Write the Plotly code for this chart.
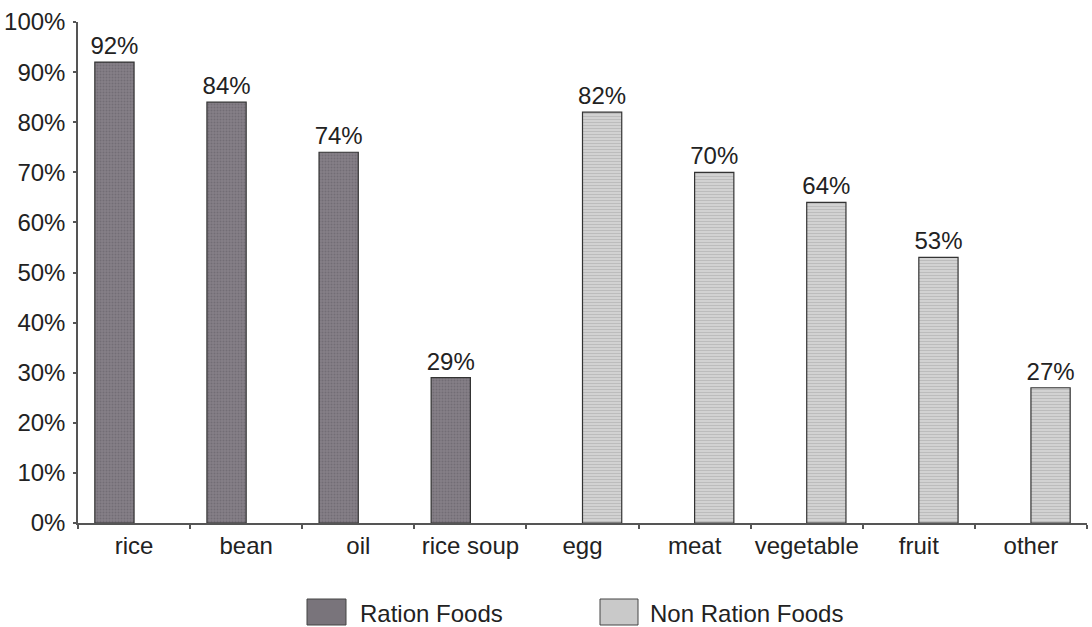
import plotly.graph_objects as go

# Food categories and share of households (%)
categories = ["rice", "bean", "oil", "rice soup", "egg", "meat", "vegetable", "fruit", "other"]
ration_values = [92, 84, 74, 29, None, None, None, None, None]
non_ration_values = [None, None, None, None, 82, 70, 64, 53, 27]
series_names = ["Ration Foods", "Non Ration Foods"]
y_tick_values = [0, 10, 20, 30, 40, 50, 60, 70, 80, 90, 100]
y_tick_labels = [f"{v}%" for v in y_tick_values]

FONT = "Liberation Sans, Arial, sans-serif"
TEXT_COLOR = "#222222"
AXIS_COLOR = "#555555"
RATION_COLOR = "#79747b"
NON_RATION_COLOR = "#c9c9c9"

W, H = 1092, 627
M_L, M_R, M_T, M_B = 78, 5, 22, 104
PLOT_W = W - M_L - M_R
PLOT_H = H - M_T - M_B


def px_x(x):
    return (x - M_L) / PLOT_W


def px_y(y):
    return (H - M_B - y) / PLOT_H


def pct_labels(values):
    return ["" if v is None else f"{v}%" for v in values]


fig = go.Figure()

fig.add_trace(go.Bar(
    x=categories, y=ration_values, name=series_names[0],
    marker=dict(color=RATION_COLOR, line=dict(color="#333333", width=1.2),
                pattern=dict(shape=".", fgcolor="#5f5b63", bgcolor="#857f87",
                             size=3, solidity=0.35)),
    text=pct_labels(ration_values), textposition="outside", constraintext="none",
    textfont=dict(size=24, color=TEXT_COLOR, family=FONT),
    cliponaxis=False, showlegend=False,
))
fig.add_trace(go.Bar(
    x=categories, y=non_ration_values, name=series_names[1],
    marker=dict(color=NON_RATION_COLOR, line=dict(color="#333333", width=1.2),
                pattern=dict(shape="-", fgcolor="#a2a2a2", bgcolor="#d2d2d2",
                             size=3, solidity=0.3)),
    text=pct_labels(non_ration_values), textposition="outside", constraintext="none",
    textfont=dict(size=24, color=TEXT_COLOR, family=FONT),
    cliponaxis=False, showlegend=False,
))

# Legend drawn as swatches with labels below the plot
legend_items = [
    (series_names[0], RATION_COLOR, 307, 346, 358),
    (series_names[1], NON_RATION_COLOR, 600, 638, 648),
]
shapes = []
annotations = []
for label, color, x0, x1, tx in legend_items:
    shapes.append(dict(type="rect", xref="paper", yref="paper",
                       x0=px_x(x0), x1=px_x(x1), y0=px_y(625), y1=px_y(599),
                       fillcolor=color, line=dict(color="#444444", width=1)))
    annotations.append(dict(text=label, xref="paper", yref="paper",
                            x=px_x(tx), y=px_y(613), xanchor="left", yanchor="middle",
                            showarrow=False,
                            font=dict(size=24, color=TEXT_COLOR, family=FONT)))

fig.update_layout(
    width=W, height=H,
    margin=dict(l=M_L, r=M_R, t=M_T, b=M_B),
    paper_bgcolor="white", plot_bgcolor="white",
    barmode="group", bargap=0.30, bargroupgap=0,
    font=dict(family=FONT, size=24, color=TEXT_COLOR),
    shapes=shapes, annotations=annotations,
    xaxis=dict(
        type="category", categoryorder="array", categoryarray=categories,
        showline=True, linecolor=AXIS_COLOR, linewidth=1.5,
        ticks="outside", ticklen=4, tickwidth=1.5, tickcolor=AXIS_COLOR,
        tickson="boundaries", showgrid=False, zeroline=False, tickangle=0,
        tickfont=dict(size=24, color=TEXT_COLOR, family=FONT),
    ),
    yaxis=dict(
        range=[0, 100], tickvals=y_tick_values, ticktext=y_tick_labels,
        showline=True, linecolor=AXIS_COLOR, linewidth=1.5,
        ticks="outside", ticklen=3, tickwidth=1.5, tickcolor=AXIS_COLOR,
        showgrid=False, zeroline=False, ticklabelstandoff=3,
        tickfont=dict(size=24, color=TEXT_COLOR, family=FONT),
    ),
    # companion axes carrying the inward half of each tick mark
    xaxis2=dict(
        overlaying="x", anchor="y", side="bottom", range=[-0.5, len(categories) - 0.5],
        tickvals=[i + 0.5 for i in range(len(categories) - 1)],
        ticks="inside", ticklen=7, tickwidth=1.5, tickcolor=AXIS_COLOR,
        showticklabels=False, showgrid=False, zeroline=False, showline=False,
    ),
    yaxis2=dict(
        overlaying="y", anchor="x", side="left", range=[0, 100],
        tickvals=y_tick_values,
        ticks="inside", ticklen=8, tickwidth=1.5, tickcolor=AXIS_COLOR,
        showticklabels=False, showgrid=False, zeroline=False, showline=False,
    ),
)

fig.write_html("out.html")
